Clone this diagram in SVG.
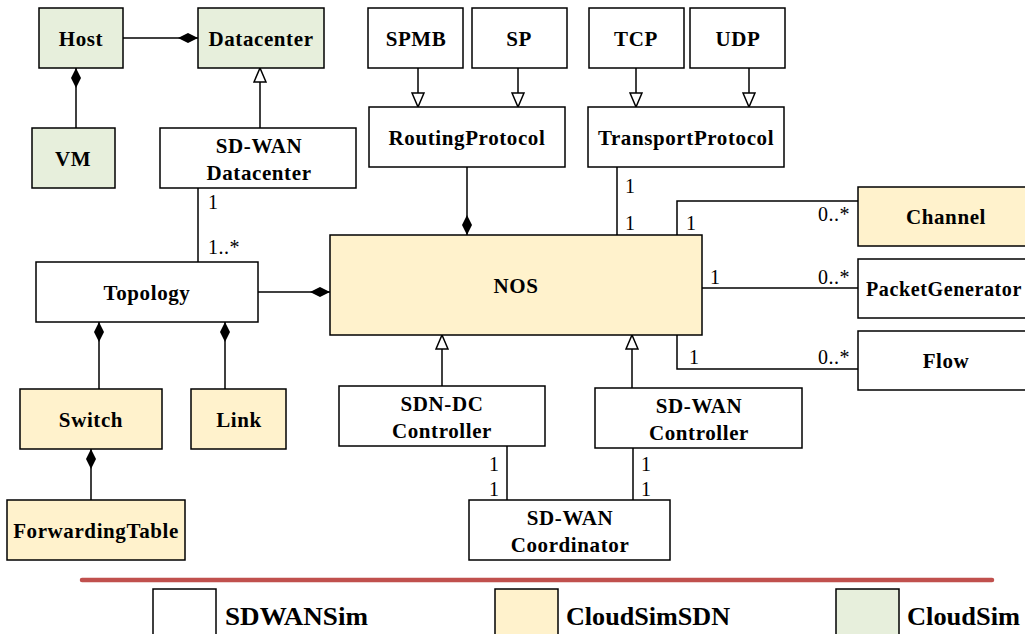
<svg xmlns="http://www.w3.org/2000/svg" width="1025" height="634" viewBox="0 0 1025 634">
  <style>
    .box { stroke: #000; stroke-width: 1.5; }
    .sdw { fill: #ffffff; }
    .csdn { fill: #fff2cc; }
    .cs { fill: #e7efdc; }
    .lbl { font-family: "Liberation Serif", "Times New Roman", serif; font-weight: bold; font-size: 21px; letter-spacing: 0.6px; text-anchor: middle; fill: #000; }
    .mul { font-family: "Liberation Serif", "Times New Roman", serif; font-size: 20px; letter-spacing: 0.5px; fill: #000; }
    .leg { font-family: "Liberation Serif", "Times New Roman", serif; font-weight: bold; font-size: 25px; fill: #000; }
    .ln { fill: none; stroke: #000; stroke-width: 1.5; }
  </style>
  <defs>
    <marker id="diamond" viewBox="0 0 20 10" refX="20" refY="5" markerWidth="20" markerHeight="10" markerUnits="userSpaceOnUse" orient="auto">
      <path d="M0,5 L10,0 L20,5 L10,10 Z" fill="#000"/>
    </marker>
    <marker id="tri" viewBox="0 0 16 14" refX="15" refY="7" markerWidth="16" markerHeight="14" markerUnits="userSpaceOnUse" orient="auto">
      <path d="M1,1 L15,7 L1,13 Z" fill="#fff" stroke="#000" stroke-width="1.5"/>
    </marker>
  </defs>

  <rect width="1025" height="634" fill="#ffffff"/>

  <!-- connectors -->
  <g id="connectors">
    <path class="ln" d="M123,38 H198" marker-end="url(#diamond)"/>
    <path class="ln" d="M76,128 V68" marker-end="url(#diamond)"/>
    <path class="ln" d="M260,128 V68" marker-end="url(#tri)"/>
    <path class="ln" d="M198,188 V262"/>
    <path class="ln" d="M258,292 H330" marker-end="url(#diamond)"/>
    <path class="ln" d="M99,389 V322" marker-end="url(#diamond)"/>
    <path class="ln" d="M225,389 V322" marker-end="url(#diamond)"/>
    <path class="ln" d="M91,500 V449" marker-end="url(#diamond)"/>
    <path class="ln" d="M418,68 V107" marker-end="url(#tri)"/>
    <path class="ln" d="M518,68 V107" marker-end="url(#tri)"/>
    <path class="ln" d="M636,68 V107" marker-end="url(#tri)"/>
    <path class="ln" d="M749,68 V107" marker-end="url(#tri)"/>
    <path class="ln" d="M467,167 V235" marker-end="url(#diamond)"/>
    <path class="ln" d="M617,167 V235"/>
    <path class="ln" d="M677,235 V201 H858"/>
    <path class="ln" d="M702,288 H858"/>
    <path class="ln" d="M677,335 V369 H858"/>
    <path class="ln" d="M442,386 V335" marker-end="url(#tri)"/>
    <path class="ln" d="M632,388 V335" marker-end="url(#tri)"/>
    <path class="ln" d="M507,446 V500"/>
    <path class="ln" d="M633,448 V500"/>

    <text class="mul" x="208" y="209">1</text>
    <text class="mul" x="208" y="254">1..*</text>
    <text class="mul" x="625" y="193">1</text>
    <text class="mul" x="625" y="230">1</text>
    <text class="mul" x="686" y="230">1</text>
    <text class="mul" x="818" y="221">0..*</text>
    <text class="mul" x="710" y="284">1</text>
    <text class="mul" x="818" y="284">0..*</text>
    <text class="mul" x="689" y="364">1</text>
    <text class="mul" x="818" y="364">0..*</text>
    <text class="mul" x="489" y="471">1</text>
    <text class="mul" x="489" y="496">1</text>
    <text class="mul" x="641" y="471">1</text>
    <text class="mul" x="641" y="496">1</text>
  </g>

  <g id="host"><rect class="box cs" x="39" y="8" width="84" height="60"/><text class="lbl" x="81" y="46">Host</text></g>
  <g id="datacenter"><rect class="box cs" x="198" y="8" width="126" height="60"/><text class="lbl" x="261" y="46">Datacenter</text></g>
  <g id="vm"><rect class="box cs" x="32" y="128" width="83" height="60"/><text class="lbl" x="73" y="166">VM</text></g>
  <g id="sdwan-datacenter"><rect class="box sdw" x="160" y="128" width="196" height="60"/><text class="lbl" x="259" y="153">SD-WAN</text><text class="lbl" x="259" y="180">Datacenter</text></g>

  <g id="spmb"><rect class="box sdw" x="368" y="8" width="95" height="60"/><text class="lbl" x="416" y="46">SPMB</text></g>
  <g id="sp"><rect class="box sdw" x="472" y="8" width="95" height="60"/><text class="lbl" x="519" y="46">SP</text></g>
  <g id="tcp"><rect class="box sdw" x="589" y="8" width="95" height="60"/><text class="lbl" x="636" y="46">TCP</text></g>
  <g id="udp"><rect class="box sdw" x="690" y="8" width="95" height="60"/><text class="lbl" x="738" y="46">UDP</text></g>
  <g id="routing-protocol"><rect class="box sdw" x="369" y="107" width="196" height="60"/><text class="lbl" x="467" y="145">RoutingProtocol</text></g>
  <g id="transport-protocol"><rect class="box sdw" x="588" y="107" width="196" height="60"/><text class="lbl" x="686" y="145">TransportProtocol</text></g>

  <g id="nos"><rect class="box csdn" x="330" y="235" width="372" height="100"/><text class="lbl" x="516" y="293">NOS</text></g>
  <g id="topology"><rect class="box sdw" x="36" y="262" width="222" height="60"/><text class="lbl" x="147" y="300">Topology</text></g>
  <g id="switch"><rect class="box csdn" x="20" y="389" width="142" height="60"/><text class="lbl" x="91" y="427">Switch</text></g>
  <g id="link"><rect class="box csdn" x="191" y="389" width="95" height="60"/><text class="lbl" x="239" y="427">Link</text></g>
  <g id="forwarding-table"><rect class="box csdn" x="7" y="500" width="178" height="60"/><text class="lbl" x="96" y="538">ForwardingTable</text></g>

  <g id="sdn-dc-controller"><rect class="box sdw" x="339" y="386" width="206" height="60"/><text class="lbl" x="442" y="411">SDN-DC</text><text class="lbl" x="442" y="438">Controller</text></g>
  <g id="sdwan-controller"><rect class="box sdw" x="595" y="388" width="207" height="60"/><text class="lbl" x="699" y="413">SD-WAN</text><text class="lbl" x="699" y="440">Controller</text></g>
  <g id="sdwan-coordinator"><rect class="box sdw" x="469" y="500" width="201" height="60"/><text class="lbl" x="570" y="525">SD-WAN</text><text class="lbl" x="570" y="552">Coordinator</text></g>

  <g id="channel"><rect class="box csdn" x="858" y="187" width="180" height="59"/><text class="lbl" x="946" y="224">Channel</text></g>
  <g id="packet-generator"><rect class="box sdw" x="858" y="259" width="180" height="59"/><text class="lbl" x="866" y="296" style="text-anchor:start" textLength="156" lengthAdjust="spacingAndGlyphs">PacketGenerator</text></g>
  <g id="flow"><rect class="box sdw" x="858" y="331" width="180" height="59"/><text class="lbl" x="946" y="368">Flow</text></g>

  <!-- legend -->
  <g id="legend">
    <line x1="82" y1="580" x2="992" y2="580" stroke="#c0504d" stroke-width="4.5" stroke-linecap="round"/>
    <rect class="box sdw" x="153" y="589" width="63" height="60"/>
    <text class="leg" x="225" y="625" textLength="143" lengthAdjust="spacingAndGlyphs">SDWANSim</text>
    <rect class="box csdn" x="495" y="589" width="63" height="60"/>
    <text class="leg" x="566" y="625" textLength="164" lengthAdjust="spacingAndGlyphs">CloudSimSDN</text>
    <rect class="box cs" x="836" y="589" width="63" height="60"/>
    <text class="leg" x="907" y="625" textLength="113" lengthAdjust="spacingAndGlyphs">CloudSim</text>
  </g>
</svg>
